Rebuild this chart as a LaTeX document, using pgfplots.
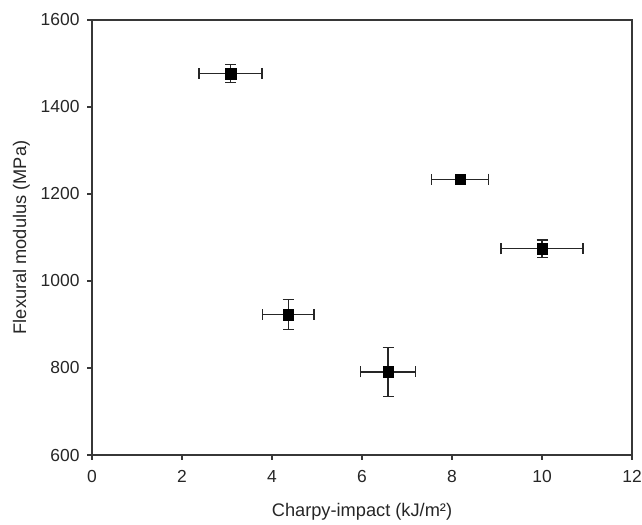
\documentclass[border=0pt]{standalone}
\usepackage{pgfplots}
\pgfplotsset{compat=1.18}
\usepackage{fontspec}
\setmainfont{Liberation Sans}
\definecolor{axgray}{RGB}{55,55,55}

\begin{document}
\begin{tikzpicture}[x=1bp,y=1bp]
\useasboundingbox (-92,-70) rectangle (550,455);
\begin{axis}[
    at={(0,0)}, anchor=south west,
    scale only axis,
    width=540bp, height=435bp,
    xmin=0, xmax=12, ymin=600, ymax=1600,
    xtick={0,2,...,12},
    ytick={600,800,...,1600},
    tick align=outside,
    xtick pos=bottom, ytick pos=left,
    major tick length=5bp,
    axis line style={axgray, line width=1.2pt},
    every tick/.style={axgray, line width=1.2pt},
    /pgf/number format/assume math mode=true,
    /pgf/number format/set thousands separator={},
    tick label style={font=\fontsize{17.5}{20}\selectfont, color=black!85},
    xticklabel style={yshift=-7bp},
    yticklabel style={xshift=-4bp},
    label style={font=\fontsize{18.3}{21}\selectfont, color=black!85},
    xlabel={Charpy-impact (kJ/m²)},
    ylabel={Flexural modulus (MPa)},
    xlabel style={yshift=-14bp},
    ylabel style={yshift=4bp},
]
\addplot[only marks, mark=square*, mark size=5.3bp, black,
    error bars/.cd,
        x dir=both, x explicit,
        y dir=both, y explicit,
        error bar style={black!85, line width=1.3pt},
        error mark options={black!85, line width=1.3pt, mark size=5.5bp, rotate=90},
] coordinates {
    (3.08, 1477) +- (0.70, 20)
    (8.18, 1234) +- (0.63, 6)
    (10.0, 1074) +- (0.91, 20)
    (4.36, 923)  +- (0.57, 35)
    (6.58, 791)  +- (0.61, 56)
};
\end{axis}
\end{tikzpicture}
\end{document}
